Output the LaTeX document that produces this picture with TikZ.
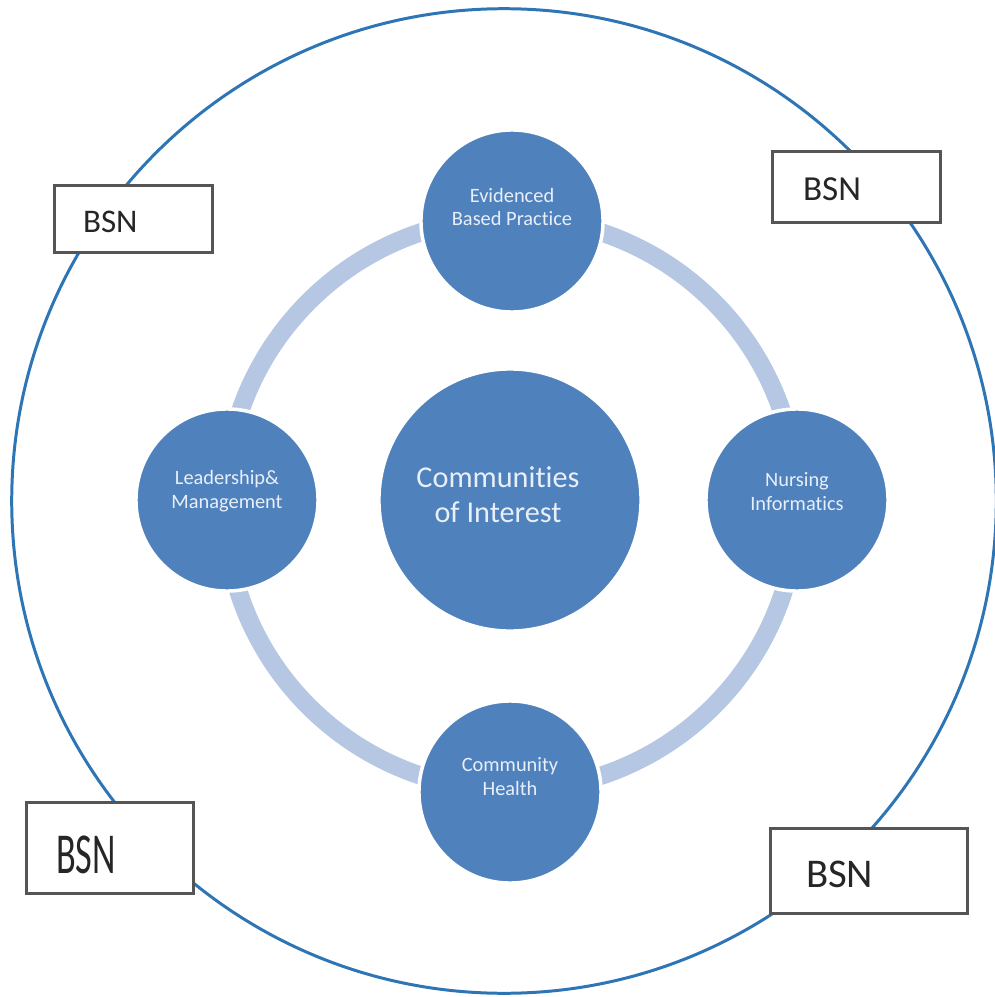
\documentclass[tikz,border=0pt]{standalone}
\usepackage{fontspec}
\usepackage{graphicx}
\setmainfont{Carlito}[Ligatures = {NoCommon, NoContextual}]
\usetikzlibrary{positioning}

\definecolor{outerblue}{RGB}{46,117,182}
\definecolor{ringblue}{RGB}{182,199,228}
\definecolor{topicblue}{RGB}{79,129,189}
\definecolor{topictxt}{RGB}{232,239,249}
\definecolor{boxgray}{RGB}{85,85,85}

\begin{document}
\begin{tikzpicture}[
                x = 0.01cm, y = -0.01cm, % one unit is one pixel of the sketch
                semithick % line style
            ]

            \tikzstyle{topic}=[circle, fill = topicblue, draw = white,
            line width = 1pt, inner sep = 0pt, minimum size = 1.82cm]
            \tikzstyle{topictext}=[text = topictxt, align = center,
            inner sep = 0pt, font = \fontsize{5.8}{6.8}\selectfont]
            \tikzstyle{bsnbox}=[draw = boxgray, fill = white,
            line width = 0.85pt, inner sep = 0pt]
            \tikzstyle{bsntext}=[anchor = base west, inner sep = 0pt,
            text = black!85]

            \useasboundingbox (0,0) rectangle (995,997);

            % outer circle and the ring behind the topics
            \node (outer) [circle, draw = outerblue, line width = 0.85pt,
            minimum size = 9.84cm, inner sep = 0pt] at (504,501) {};
            \node (ring) [circle, draw = ringblue, line width = 5.2pt,
            minimum size = 5.72cm, inner sep = 0pt] at (511,504) {};

            % BSN boxes
            \node (tlbox) [bsnbox, minimum width = 1.57cm,
            minimum height = 0.66cm] at (133.5,219) {};
            \node (trbox) [bsnbox, minimum width = 1.67cm,
            minimum height = 0.70cm] at (856.5,187) {};
            \node (blbox) [bsnbox, minimum width = 1.66cm,
            minimum height = 0.90cm] at (110,848) {};
            \node (brbox) [bsnbox, minimum width = 1.96cm,
            minimum height = 0.84cm] at (869,871) {};

            \node (tlbsn) [bsntext, font = \fontsize{9.4}{11}\selectfont]
            at (82,232) {BSN};
            \node (trbsn) [bsntext, font = \fontsize{10}{12}\selectfont]
            at (802,200) {BSN};
            \node (blbsn) [bsntext, font = \fontsize{10.3}{12}\selectfont]
            at (55,873) {\scalebox{1}[1.6]{BSN}};
            \node (brbsn) [bsntext, font = \fontsize{11.6}{13}\selectfont]
            at (805,887) {BSN};

            % topic circles
            \node (coi) [topic, minimum size = 2.62cm] at (510,500) {};
            \node (ebp) [topic] at (512,221) {};
            \node (lm) [topic] at (227,500) {};
            \node (ni) [topic] at (797,500) {};
            \node (ch) [topic] at (510,792) {};

            \node (coitext) [topictext, font = \fontsize{8.6}{10}\selectfont]
            at ([xshift = -0.12cm, yshift = 0.05cm]coi.center)
            {Communit\kern0pt ies\\of Interest};
            \node (ebptext) [topictext] at ([yshift = 0.14cm]ebp.center)
            {Evidenced\\Based Pract\kern0pt ice};
            \node (lmtext) [topictext] at ([yshift = 0.09cm]lm.center)
            {Leadership\&\\Management};
            \node (nitext) [topictext] at ([yshift = 0.08cm]ni.center)
            {Nursing\\Informat\kern0pt ics};
            \node (chtext) [topictext] at ([yshift = 0.15cm]ch.center)
            {Community\\Health};

        \end{tikzpicture}
\end{document}
